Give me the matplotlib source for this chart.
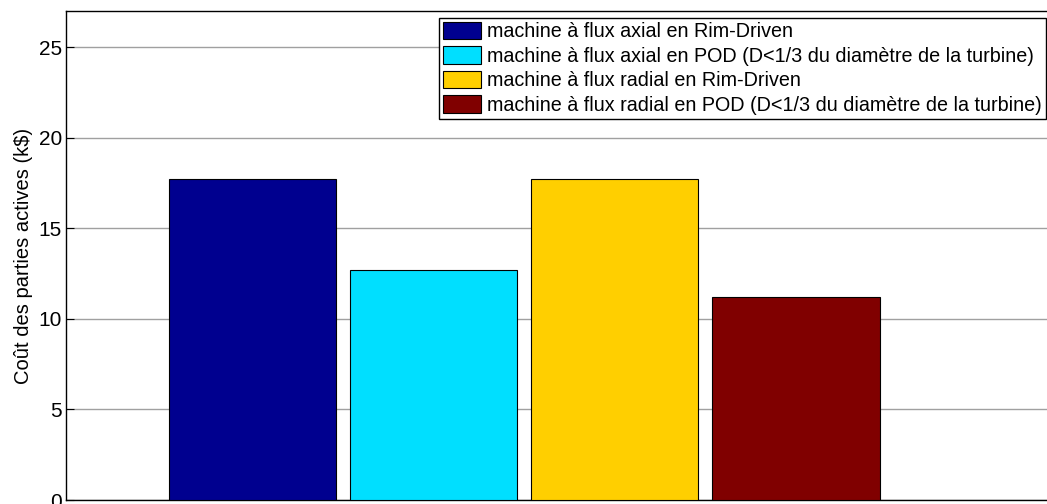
import matplotlib.pyplot as plt
from matplotlib.patches import Patch

# Data
labels = [
    "machine à flux axial en Rim-Driven",
    "machine à flux axial en POD (D<1/3 du diamètre de la turbine)",
    "machine à flux radial en Rim-Driven",
    "machine à flux radial en POD (D<1/3 du diamètre de la turbine)",
]
costs = [17.7, 12.7, 17.7, 11.2]
colors = ["#00008f", "#00dfff", "#ffcf00", "#800000"]
positions = [1, 2, 3, 4]

plt.rcParams['font.family'] = ['Liberation Sans', 'DejaVu Sans']

W, H = 1047, 504
ax_left, ax_right = 66, 1058
fig = plt.figure(figsize=(W / 100, H / 100), dpi=100)
ax = fig.add_axes([ax_left / W, (H - 500) / H, (ax_right - ax_left) / W, (500 - 11) / H])

ax.bar(positions, costs, width=0.923, color=colors, edgecolor="black",
       linewidth=0.8, zorder=3)

# one bar step is about 181 px, first bar centre about 186 px from the left
step = 181.2
x0 = 1 - 186.3 / step
ax.set_xlim(x0, x0 + (ax_right - ax_left) / step)
ax.set_ylim(0, 27)
ax.set_yticks([0, 5, 10, 15, 20, 25])
ax.set_xticks([])
ax.yaxis.grid(True, color="#a0a0a0", linewidth=1.0, zorder=0)
ax.tick_params(axis="y", direction="in", length=6, labelsize=15, pad=3)
for s in ax.spines.values():
    s.set_linewidth(1.0)
ax.spines["right"].set_visible(False)

ax.set_ylabel("Coût des parties actives (k\\$)", fontsize=14.5, labelpad=4)

handles = [Patch(facecolor=c, edgecolor="black", linewidth=0.8) for c in colors]
leg = ax.legend(handles, labels, loc="upper right",
                bbox_to_anchor=(1046 / W, (H - 17.7) / H),
                bbox_transform=fig.transFigure, fontsize=14.2,
                frameon=True, fancybox=False, edgecolor="black", framealpha=1,
                handlelength=1.95, handleheight=1.0, handletextpad=0.3,
                labelspacing=0.25, borderpad=0.2, borderaxespad=0)
leg.get_frame().set_linewidth(1.0)

plt.savefig("out.png", dpi=100)
